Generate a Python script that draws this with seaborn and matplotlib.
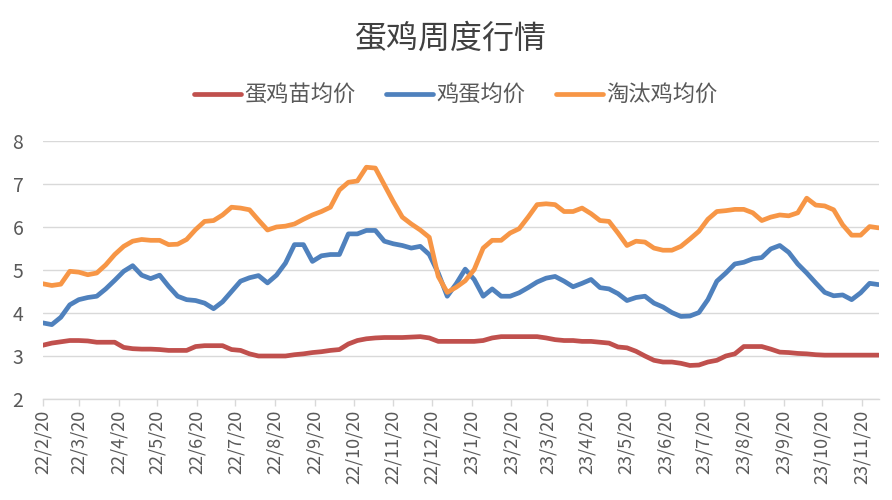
import pandas as pd
import matplotlib
matplotlib.use("Agg")
import matplotlib.pyplot as plt
import seaborn as sns


# 数据 (周度, 从 2022-02-20 开始)

start_date = "2022-02-20"

chick_price = [
    3.25, 3.30, 3.33, 3.36, 3.36, 3.35, 3.32, 3.32, 3.32, 3.20,
    3.17, 3.16, 3.16, 3.15, 3.13, 3.13, 3.13, 3.22, 3.24, 3.24,
    3.24, 3.15, 3.13, 3.05, 3.00, 3.00, 3.00, 3.00, 3.03, 3.05,
    3.08, 3.10, 3.13, 3.15, 3.28, 3.36, 3.40, 3.42, 3.43, 3.43,
    3.43, 3.44, 3.45, 3.42, 3.34, 3.34, 3.34, 3.34, 3.34, 3.36,
    3.42, 3.45, 3.45, 3.45, 3.45, 3.45, 3.42, 3.38, 3.36, 3.36,
    3.34, 3.34, 3.32, 3.30, 3.21, 3.19, 3.11, 3.00, 2.90, 2.86,
    2.86, 2.83, 2.78, 2.79, 2.86, 2.90, 3.00, 3.05, 3.22, 3.22,
    3.22, 3.16, 3.09, 3.08, 3.06, 3.05, 3.03, 3.02, 3.02, 3.02,
    3.02, 3.02, 3.02, 3.02,
]

egg_price = [
    3.77, 3.73, 3.90, 4.19, 4.31, 4.36, 4.39, 4.56, 4.76, 4.97,
    5.10, 4.88, 4.80, 4.88, 4.62, 4.39, 4.31, 4.29, 4.23, 4.10,
    4.26, 4.50, 4.74, 4.82, 4.87, 4.70, 4.88, 5.16, 5.59, 5.59,
    5.20, 5.33, 5.36, 5.36, 5.84, 5.84, 5.92, 5.92, 5.67, 5.61,
    5.57, 5.51, 5.55, 5.36, 4.93, 4.39, 4.68, 5.02, 4.78, 4.39,
    4.56, 4.39, 4.39, 4.47, 4.59, 4.72, 4.81, 4.85, 4.74, 4.61,
    4.69, 4.78, 4.59, 4.56, 4.45, 4.29, 4.36, 4.39, 4.23, 4.14,
    4.01, 3.92, 3.93, 4.01, 4.31, 4.74, 4.93, 5.14, 5.18, 5.26,
    5.29, 5.49, 5.57, 5.41, 5.14, 4.93, 4.70, 4.48, 4.40, 4.42,
    4.31, 4.47, 4.69, 4.66,
]

hen_price = [
    4.68, 4.64, 4.67, 4.97, 4.95, 4.89, 4.93, 5.12, 5.36, 5.55,
    5.67, 5.71, 5.69, 5.69, 5.59, 5.60, 5.71, 5.94, 6.13, 6.15,
    6.28, 6.46, 6.44, 6.40, 6.16, 5.93, 6.00, 6.02, 6.07, 6.18,
    6.28, 6.36, 6.46, 6.86, 7.04, 7.07, 7.39, 7.37, 6.98, 6.59,
    6.23, 6.07, 5.93, 5.76, 4.85, 4.48, 4.60, 4.75, 5.01, 5.51,
    5.69, 5.69, 5.86, 5.96, 6.23, 6.52, 6.54, 6.52, 6.36, 6.36,
    6.44, 6.31, 6.15, 6.13, 5.86, 5.57, 5.67, 5.65, 5.51, 5.46,
    5.46, 5.55, 5.72, 5.90, 6.18, 6.36, 6.38, 6.41, 6.41, 6.33,
    6.15, 6.23, 6.28, 6.26, 6.33, 6.67, 6.51, 6.49, 6.40, 6.05,
    5.81, 5.81, 6.01, 5.98,
]

series_names = ["蛋鸡苗均价", "鸡蛋均价", "淘汰鸡均价"]
series_colors = ["#C0504D", "#4F81BD", "#F79646"]

dates = pd.date_range(start_date, periods=len(chick_price), freq="7D")

df = pd.DataFrame({
    "date": dates,
    series_names[0]: chick_price,
    series_names[1]: egg_price,
    series_names[2]: hen_price,
})
long_df = df.melt(id_vars="date", var_name="品种", value_name="价格")


# 绘图

sns.set_theme(style="white")
plt.rcParams["font.family"] = ["Noto Sans CJK SC", "DejaVu Sans"]

fig = plt.figure(figsize=(8.92, 5.0), dpi=100)
ax = fig.add_axes([0.048, 0.202, 0.937, 0.516])

sns.lineplot(
    data=long_df,
    x="date",
    y="价格",
    hue="品种",
    palette=dict(zip(series_names, series_colors)),
    linewidth=3.4,
    ax=ax,
    legend=False,
)

ax.set_ylim(2, 8)
ax.set_yticks(range(2, 9))
ax.set_xlim(dates[0], dates[-1])

# 每月 20 日一个刻度
tick_dates = pd.date_range("2022-02-01", "2023-11-01", freq="MS") + pd.Timedelta(days=19)
ax.set_xticks(tick_dates)
ax.set_xticklabels(
    [f"{d.year % 100}/{d.month}/{d.day}" for d in tick_dates],
    rotation=90,
)

ax.grid(axis="y", color="#D9D9D9", linewidth=1.0)
ax.set_axisbelow(True)
for side in ["left", "right", "top"]:
    ax.spines[side].set_visible(False)
ax.spines["bottom"].set_color("#D9D9D9")
ax.spines["bottom"].set_linewidth(1.0)

ax.tick_params(axis="x", colors="#595959", labelsize=13, length=5,
               width=1, color="#D9D9D9", direction="out", bottom=True, pad=3)
ax.tick_params(axis="y", colors="#595959", labelsize=14, length=0, pad=14)
ax.set_xlabel("")
ax.set_ylabel("")

fig.suptitle("蛋鸡周度行情", x=0.505, y=0.955, fontsize=23, color="#404040")

handles = [
    plt.Line2D([], [], color=c, linewidth=3.4, solid_capstyle="round")
    for c in series_colors
]
fig.legend(
    handles,
    series_names,
    loc="center",
    bbox_to_anchor=(0.511, 0.81),
    ncol=3,
    frameon=False,
    fontsize=16,
    handlelength=2.1,
    handletextpad=0.15,
    columnspacing=1.4,
    labelcolor="#595959",
)

fig.savefig("out.png", dpi=100)
